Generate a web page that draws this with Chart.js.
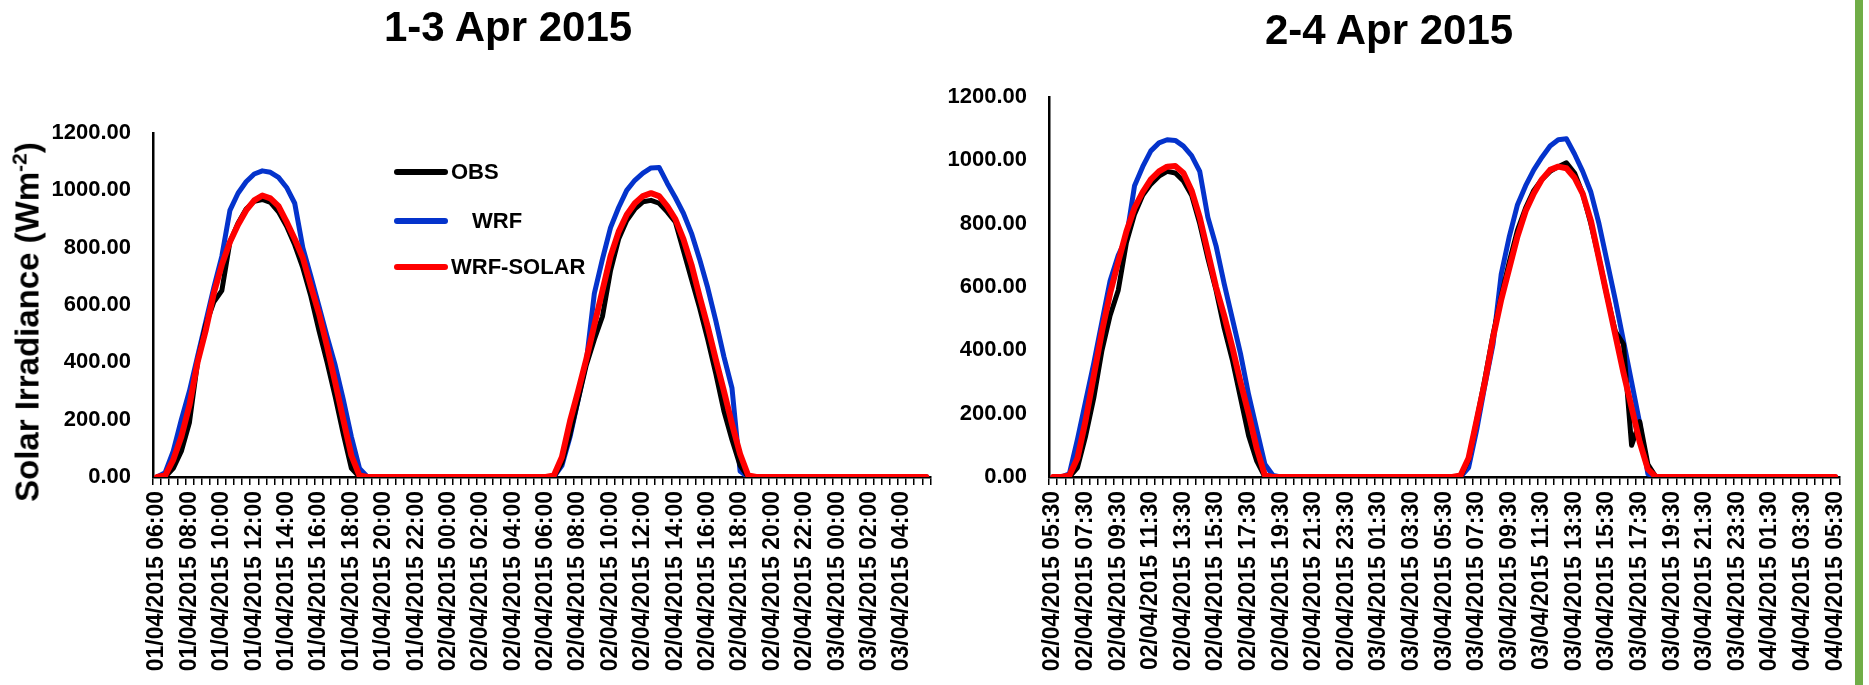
<!DOCTYPE html>
<html>
<head>
<meta charset="utf-8">
<title>Solar irradiance</title>
<script src="https://cdn.jsdelivr.net/npm/chart.js@4.4.1/dist/chart.umd.min.js"></script>
<style>
  body { margin: 0; background: #fff; width: 1869px; height: 685px; overflow: hidden; position: relative;
         font-family: "Liberation Sans", Arial, sans-serif; color: #000; }
  canvas { position: absolute; top: 0; }
  #chart1 { left: 0; }
  #chart2 { left: 909px; }
  .title { position: absolute; font-weight: bold; font-size: 42px; line-height: 1; white-space: nowrap;
           transform: translate(-50%, -50%); }
  #ytitle { position: absolute; left: 26px; top: 322px; font-weight: bold; font-size: 33px; line-height: 1;
            white-space: nowrap; transform: translate(-50%, -50%) rotate(-90deg); }
  #ytitle sup { font-size: 21px; }
  .leg { position: absolute; left: 394px; height: 22px; font-weight: bold; font-size: 22px; line-height: 22px; white-space: nowrap; }
  .leg i { position: absolute; left: 0; top: 8px; width: 54px; height: 6px; border-radius: 3px; }
  .leg span { position: absolute; top: 0; }
  #green { position: absolute; left: 1855px; top: 0; width: 8px; height: 685px; background: #70ad47; }
</style>
</head>
<body>
<canvas id="chart1" width="960" height="685"></canvas>
<canvas id="chart2" width="960" height="685"></canvas>

<div class="title" style="left:508px; top:27px;">1-3 Apr 2015</div>
<div class="title" style="left:1389px; top:30px;">2-4 Apr 2015</div>
<div id="ytitle">Solar Irradiance (Wm<sup>-2</sup>)</div>

<div class="leg" style="top:161px;"><i style="background:#000"></i><span style="left:57px">OBS</span></div>
<div class="leg" style="top:210px;"><i style="background:#0433cc"></i><span style="left:78px">WRF</span></div>
<div class="leg" style="top:256px;"><i style="background:#ff0000"></i><span style="left:57px">WRF-SOLAR</span></div>

<div id="green"></div>

<script>
// -------------------------------
// DATA (30 min steps)
// -------------------------------
// 1-3 Apr: 01/04/2015 06:00 .. 03/04/2015 05:30
const obs1 = [
    0, 0, 30, 90, 190, 400, 530, 610, 650, 820, 885, 935, 962, 968, 958, 925, 875, 810, 730, 630, 510, 400, 280, 150, 30, 0, 0,
    0, 0, 0, 0, 0, 0, 0, 0, 0, 0, 0, 0, 0, 0, 0, 0, 0, 0, 0, 0, 0,
    0, 0, 50, 150, 270, 390, 480, 560, 720, 830, 895, 935, 960, 965, 955, 925, 890, 790, 690, 590, 480, 360, 230, 130, 40, 0, 0,
    0, 0, 0, 0, 0, 0, 0, 0, 0, 0, 0, 0, 0, 0, 0, 0, 0, 0, 0, 0, 0
];
const wrf1 = [
    0, 15, 90, 200, 300, 420, 540, 660, 770, 930, 990, 1030, 1057, 1068, 1063, 1045, 1010, 955, 800, 700, 595, 490, 390, 270, 140, 30, 0,
    0, 0, 0, 0, 0, 0, 0, 0, 0, 0, 0, 0, 0, 0, 0, 0, 0, 0, 0, 0, 0,
    0, 0, 40, 140, 270, 400, 640, 760, 870, 940, 1000, 1035, 1060, 1078, 1080, 1025, 975, 920, 850, 760, 660, 545, 420, 310, 20, 0, 0,
    0, 0, 0, 0, 0, 0, 0, 0, 0, 0, 0, 0, 0, 0, 0, 0, 0, 0, 0, 0, 0
];
const solar1 = [
    0, 5, 60, 140, 250, 400, 510, 640, 740, 820, 880, 930, 965, 982, 972, 945, 890, 830, 765, 665, 570, 455, 330, 200, 75, 5, 0,
    0, 0, 0, 0, 0, 0, 0, 0, 0, 0, 0, 0, 0, 0, 0, 0, 0, 0, 0, 0, 0,
    0, 5, 70, 195, 300, 410, 530, 650, 770, 855, 915, 955, 980, 990, 980, 945, 900, 830, 740, 630, 525, 410, 300, 185, 80, 5, 0,
    0, 0, 0, 0, 0, 0, 0, 0, 0, 0, 0, 0, 0, 0, 0, 0, 0, 0, 0, 0, 0
];

// 2-4 Apr: 02/04/2015 05:30 .. 04/04/2015 05:30
const obs2 = [
    0, 0, 0, 30, 130, 250, 400, 510, 590, 740, 830, 890, 925, 950, 965, 960, 935, 890, 800, 690, 590, 470, 370, 250, 130, 50, 0, 0,
    0, 0, 0, 0, 0, 0, 0, 0, 0, 0, 0, 0, 0, 0, 0, 0, 0, 0, 0, 0,
    0, 0, 0, 55, 180, 310, 450, 570, 680, 780, 850, 905, 940, 965, 980, 992, 960, 895, 800, 690, 570, 460, 420, 100, 175, 40, 0,
    0, 0, 0, 0, 0, 0, 0, 0, 0, 0, 0, 0, 0, 0, 0, 0, 0, 0, 0, 0, 0, 0
];
const wrf2 = [
    0, 0, 10, 120, 240, 360, 490, 620, 700, 755, 920, 980, 1030, 1055, 1065, 1063, 1045, 1015, 965, 820, 730, 610, 500, 390, 260, 150, 40, 5,
    0, 0, 0, 0, 0, 0, 0, 0, 0, 0, 0, 0, 0, 0, 0, 0, 0, 0, 0, 0,
    0, 0, 0, 30, 150, 290, 420, 640, 760, 860, 920, 970, 1010, 1045, 1065, 1068, 1020, 965, 900, 800, 680, 560, 430, 300, 170, 10, 0,
    0, 0, 0, 0, 0, 0, 0, 0, 0, 0, 0, 0, 0, 0, 0, 0, 0, 0, 0, 0, 0, 0
];
const solar2 = [
    0, 0, 5, 60, 180, 320, 460, 580, 680, 775, 850, 900, 940, 965, 980, 982, 960, 905, 820, 710, 600, 510, 410, 300, 200, 90, 5, 0,
    0, 0, 0, 0, 0, 0, 0, 0, 0, 0, 0, 0, 0, 0, 0, 0, 0, 0, 0, 0,
    0, 0, 5, 60, 180, 300, 440, 560, 660, 760, 840, 895, 940, 970, 980, 975, 945, 895, 810, 690, 570, 450, 330, 220, 110, 25, 0,
    0, 0, 0, 0, 0, 0, 0, 0, 0, 0, 0, 0, 0, 0, 0, 0, 0, 0, 0, 0, 0, 0
];

const yTicks = [0, 200, 400, 600, 800, 1000, 1200];

// category labels, dd/mm/yyyy hh:mm every half hour
function halfHours(day, hour, min, count) {
    const out = [];
    for (let k = 0; k < count; k++) {
        const dd = String(day).padStart(2, "0");
        const hh = String(hour).padStart(2, "0");
        const mm = String(min).padStart(2, "0");
        out.push(`${dd}/04/2015 ${hh}:${mm}`);
        min += 30;
        if (min === 60) { min = 0; hour++; }
        if (hour === 24) { hour = 0; day++; }
    }
    return out;
}
const labels1 = halfHours(1, 6, 0, obs1.length);
const labels2 = halfHours(2, 5, 30, obs2.length);


// -------------------------------
// CHART BUILDER
// -------------------------------
const FONT = "'Liberation Sans', Arial, sans-serif";

function buildChart(id, labels, obs, wrf, solar, box) {
    const ctx = document.getElementById(id).getContext("2d");
    return new Chart(ctx, {
        type: "line",
        data: {
            labels: labels,
            datasets: [
                { label: "OBS", data: obs, borderColor: "#000000", borderWidth: 5, order: 1 },
                { label: "WRF", data: wrf, borderColor: "#0433cc", borderWidth: 5, order: 2 },
                { label: "WRF-SOLAR", data: solar, borderColor: "#ff0000", borderWidth: 6, order: 0 }
            ]
        },
        options: {
            responsive: false,
            animation: false,
            elements: {
                point: { radius: 0, hoverRadius: 0 },
                line: { tension: 0, borderJoinStyle: "round", borderCapStyle: "round", fill: false }
            },
            layout: { padding: { top: box.top, right: box.right, left: 0, bottom: 0 } },
            scales: {
                x: {
                    type: "category",
                    offset: true,
                    grid: { display: true, drawOnChartArea: false, offset: true, tickLength: 8, color: "#000", lineWidth: 1.5 },
                    border: { display: true, color: "#000", width: 2.5 },
                    ticks: {
                        autoSkip: false,
                        maxRotation: 90,
                        minRotation: 90,
                        padding: 6,
                        color: "#000",
                        font: { family: FONT, size: 23, weight: "bold" },
                        callback: function(v, i) { return i % 4 === 0 ? this.getLabelForValue(v) : ""; }
                    },
                    afterFit: s => { s.height = 685 - 477; }
                },
                y: {
                    min: 0,
                    max: 1200,
                    afterBuildTicks: s => { s.ticks = yTicks.map(v => ({ value: v })); },
                    grid: { display: false },
                    border: { display: true, color: "#000", width: 2.5 },
                    ticks: {
                        padding: 14,
                        color: "#000",
                        font: { family: FONT, size: 22, weight: "bold" },
                        callback: v => Number(v).toFixed(2)
                    },
                    afterFit: s => { s.width = box.yWidth; }
                }
            },
            plugins: {
                legend: { display: false },
                title: { display: false },
                tooltip: { enabled: false }
            }
        }
    });
}

buildChart("chart1", labels1, obs1, wrf1, solar1, { top: 133, right: 9, yWidth: 153 });
buildChart("chart2", labels2, obs2, wrf2, solar2, { top: 97, right: 24, yWidth: 140 });
</script>
</body>
</html>
